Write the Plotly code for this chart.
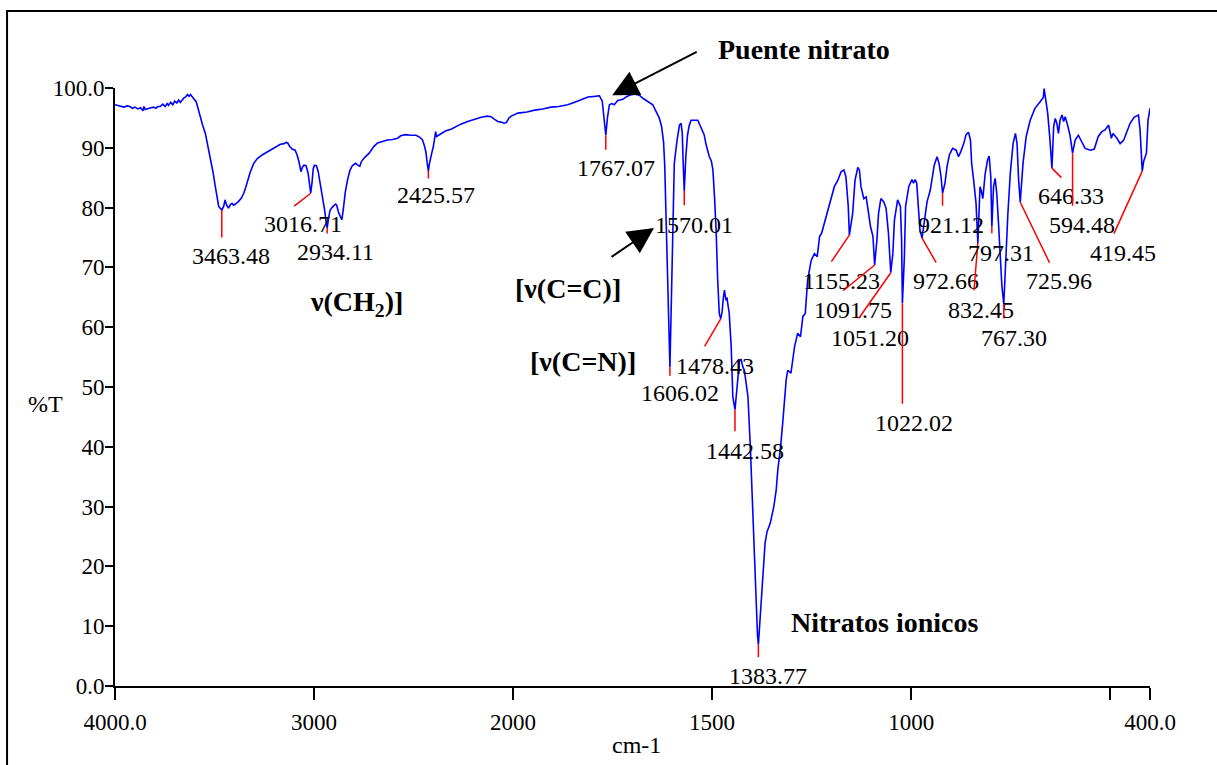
import plotly.graph_objects as go

# Infrared spectrum: wavenumber (cm-1) against transmittance (%T).
# Background points of the trace; the labelled band minima are merged in below.
wavenumber = [
    4000, 3985, 3970, 3955, 3940, 3925, 3912, 3900, 3885, 3872, 3860, 3855, 3848,
    3835, 3820, 3807, 3795, 3785, 3773, 3760, 3748, 3738, 3731, 3720, 3710, 3700,
    3689, 3680, 3672, 3664, 3655, 3645, 3636, 3628, 3620, 3614, 3603, 3592, 3582,
    3572, 3560, 3546, 3535, 3521, 3508, 3496, 3486, 3479,
    3454, 3447, 3439, 3430, 3420, 3412, 3404, 3395, 3380, 3365, 3353, 3343, 3333,
    3320, 3303, 3285, 3261, 3240, 3219, 3195, 3169, 3150, 3140, 3132, 3122, 3110,
    3095, 3085, 3076, 3066, 3058, 3050, 3040, 3030, 3024,
    3010, 3004, 2998, 2988, 2979, 2970, 2958, 2947, 2940,
    2928, 2920, 2910, 2900, 2892, 2886, 2878, 2868, 2860, 2852, 2843, 2832, 2820,
    2808, 2792, 2780, 2770, 2762, 2745, 2723, 2700, 2681, 2660, 2631, 2605, 2580,
    2565, 2540, 2513, 2488, 2470, 2455, 2446, 2438, 2432,
    2420, 2414, 2408, 2400, 2392, 2389, 2384, 2360, 2340, 2312, 2290, 2260, 2228,
    2200, 2160, 2130, 2110, 2095, 2083, 2076, 2060, 2045, 2034, 2020, 2009, 1988,
    1965, 1946, 1925, 1905, 1885, 1863, 1845, 1829, 1812, 1795, 1783, 1776, 1771,
    1763, 1758, 1752, 1746, 1737, 1724, 1716, 1708, 1695, 1683, 1672, 1662, 1655,
    1649, 1641, 1633, 1627, 1622, 1619, 1616, 1613, 1610,
    1603, 1600, 1598, 1595, 1588, 1582, 1578, 1575, 1573,
    1566, 1562, 1558, 1553, 1536, 1528, 1520, 1515, 1507, 1502, 1498, 1494, 1490,
    1486, 1482,
    1475, 1472, 1469, 1467, 1465, 1463, 1461, 1457, 1452, 1448,
    1440, 1436, 1431, 1427, 1423, 1419, 1415, 1410, 1404, 1398, 1393, 1389, 1386,
    1379, 1373, 1367, 1362, 1354, 1345, 1339, 1335, 1328, 1322, 1318, 1314, 1310,
    1302, 1293, 1285, 1278, 1272, 1266, 1260, 1251, 1243, 1236, 1230, 1225, 1218,
    1209, 1201, 1193, 1184, 1176, 1169, 1164, 1158,
    1147, 1141, 1134, 1130, 1126, 1119, 1113, 1109, 1102, 1096,
    1086, 1082, 1076, 1069, 1063, 1057,
    1046, 1042, 1034, 1027, 1024,
    1017, 1014, 1006, 998, 994, 990, 986, 982, 978,
    966, 960, 952, 942, 935, 930, 925,
    915, 910, 904, 896, 887, 881, 875, 868, 862, 856, 851, 848, 843, 837,
    827, 824, 820, 814, 808, 804, 800,
    793, 789, 785, 781, 777, 772,
    763, 757, 751, 744, 738, 734, 730,
    719, 711, 701, 689, 676, 668, 666, 662, 657, 652,
    642, 638, 634, 630, 626, 621, 617, 613, 607, 601,
    588, 580, 571, 563, 550, 540, 530, 521, 513, 504, 497, 493, 483, 475, 466,
    458, 450, 440, 429, 425,
    416, 409, 405, 400,
]
transmittance = [
    97.2, 97.1, 97.0, 96.8, 97.0, 96.9, 96.6, 96.8, 96.5, 96.7, 96.2, 96.9, 96.4,
    96.6, 96.7, 96.8, 96.6, 96.9, 96.9, 97.3, 96.9, 97.4, 97.1, 97.6, 97.2, 97.8,
    97.5, 98.0, 97.6, 97.9, 98.3, 98.5, 98.9, 98.6, 98.9, 98.6, 98.2, 97.7, 96.5,
    95.2, 93.8, 92.4, 90.6, 88.5, 86.0, 83.5, 81.5, 80.2,
    80.2, 81.3, 80.4, 79.9, 80.5, 80.7, 80.4, 80.6, 81.0, 81.6, 82.4, 83.4, 84.6,
    86.0, 87.4, 88.2, 88.8, 89.2, 89.6, 90.0, 90.6, 90.7, 90.9, 90.8, 90.2, 89.8,
    89.6, 88.8, 87.7, 86.0, 86.8, 87.1, 87.0, 85.8, 84.0,
    84.2, 86.5, 87.1, 87.0, 86.0, 84.2, 82.4, 79.6, 77.8,
    78.0, 79.5, 80.0, 80.3, 80.6, 80.4, 79.3, 78.5, 78.0, 80.0, 82.6, 84.6, 86.2,
    87.0, 87.4, 87.1, 86.9, 87.7, 88.4, 89.1, 90.2, 90.8, 91.0, 91.3, 91.4, 91.6,
    92.0, 92.2, 92.1, 92.1, 91.8, 91.3, 90.4, 89.3, 87.6,
    87.4, 88.6, 89.2, 90.3, 91.6, 92.7, 91.9, 92.4, 92.8, 93.1, 93.5, 94.0, 94.4,
    94.7, 95.1, 95.3, 95.2, 94.8, 94.5, 94.4, 94.3, 94.1, 94.2, 95.0, 95.3, 95.8,
    96.0, 96.3, 96.5, 96.8, 96.9, 97.2, 97.6, 98.1, 98.5, 98.6, 98.7, 97.8, 94.5,
    95.0, 97.2, 97.4, 97.2, 97.9, 98.1, 98.5, 98.8, 99.0, 98.8, 98.2, 97.8, 97.4,
    97.2, 96.1, 95.0, 93.6, 91.0, 87.0, 79.1, 70.0, 62.4,
    62.4, 72.0, 79.1, 87.4, 91.3, 93.8, 94.1, 92.5, 88.0,
    88.5, 92.0, 93.6, 94.6, 94.6, 93.5, 92.2, 90.5, 88.5, 87.8, 86.3, 81.8, 76.3,
    67.9, 62.3,
    62.5, 64.8, 66.2, 65.2, 64.5, 65.0, 64.3, 62.3, 56.7, 48.4,
    47.8, 51.2, 54.5, 54.6, 53.4, 52.8, 50.5, 48.4, 40.0, 30.0, 20.0, 12.0, 8.5,
    12.2, 17.7, 23.9, 25.8, 27.2, 30.0, 32.8, 36.1, 40.0, 44.5, 47.8, 51.2, 52.8,
    52.3, 56.7, 59.0, 58.4, 61.8, 62.3, 67.9, 71.2, 72.3, 71.8, 75.2, 75.7, 77.4,
    79.6, 81.8, 83.5, 84.6, 86.0, 86.3, 85.2, 80.2,
    79.0, 84.6, 86.7, 86.3, 83.5, 81.5, 81.8, 80.2, 76.8, 75.2,
    74.6, 79.0, 81.5, 81.0, 79.9, 75.7,
    72.3, 77.9, 81.3, 80.2, 74.6,
    71.8, 80.2, 83.5, 84.7, 84.1, 84.7, 84.1, 80.2, 76.3,
    78.5, 81.0, 82.9, 87.1, 88.5, 87.4, 85.2,
    84.1, 86.8, 88.8, 89.9, 89.6, 88.5, 89.4, 90.7, 92.2, 92.6, 91.3, 87.4, 84.6, 80.7,
    83.5, 82.9, 81.5, 85.7, 88.0, 88.6, 85.2,
    83.5, 84.9, 82.4, 77.9, 72.3, 66.8,
    70.7, 79.0, 85.7, 90.7, 92.4, 90.7, 84.6,
    87.4, 91.9, 94.6, 96.6, 97.7, 98.4, 99.9, 98.3, 95.8, 91.9,
    93.6, 94.9, 94.1, 92.4, 94.6, 95.5, 94.4, 95.2, 93.8, 92.1,
    91.3, 92.1, 91.0, 89.9, 89.6, 89.8, 91.9, 92.7, 93.0, 93.8, 91.6, 92.4, 91.6, 90.7, 91.3,
    92.7, 94.1, 95.1, 95.5, 93.0,
    87.7, 89.1, 94.6, 96.6,
]

# Labelled band minima
peak_wavenumber = [
    3463.48, 3016.71, 2934.11, 2425.57, 1767.07, 1570.01, 1606.02, 1478.43,
    1442.58, 1383.77, 1155.23, 1091.75, 1051.20, 1022.02, 972.66, 921.12,
    832.45, 797.31, 767.30, 725.96, 646.33, 594.48, 419.45,
]
peak_transmittance = [
    79.6, 82.4, 76.6, 86.1, 92.1, 82.8, 53.3, 61.4,
    46.2, 6.9, 75.4, 70.4, 69.1, 64.0, 74.9, 82.4,
    74.1, 76.8, 63.9, 80.9, 86.6, 89.1, 86.1,
]
peak_labels = [f"{w:.2f}" for w in peak_wavenumber]

# Leader-line tail offsets and label-centre offsets (pixels from the band minimum)
leader_offsets = [
    (0, 29), (-18, 14), (0, 7), (0, 9), (0, 16), (0, 16), (0, 10), (-17, 29),
    (0, 23), (0, 14), (-19, 28), (-33, 27), (-33, 47), (0, 102), (15, 26), (0, 14),
    (-4, 49), (0, 8), (0, 16), (30, 62), (11, 11), (0, 54), (-29, 64),
]
label_offsets = [
    (9, 46), (-8, 31), (8, 24), (8, 24), (10, 33), (10, 34), (10, 26), (-6, 47),
    (10, 41), (10, 31), (-8, 46), (-22, 45), (-21, 65), (12, 120), (24, 43), (8, 32),
    (3, 67), (9, 26), (10, 34), (39, 79), (19, 28), (9, 72), (-19, 82),
]

# Axis ticks
tick_wavenumbers = [4000, 3000, 2000, 1500, 1000, 500, 400]
tick_texts = ["4000.0", "3000", "2000", "1500", "1000", "", "400.0"]
y_ticks = list(range(0, 101, 10))
y_tick_texts = ["0.0"] + [str(v) for v in y_ticks[1:-1]] + ["100.0"]


def axis_pos(w):
    """Spectrometer scale: 2000 cm-1 and below is expanded two-fold."""
    return 4000 - w if w >= 2000 else 2000 + 2 * (2000 - w)


SERIF = "Liberation Serif, Times New Roman, serif"

points = sorted(zip(wavenumber + peak_wavenumber, transmittance + peak_transmittance),
                key=lambda p: -p[0])
xs = [axis_pos(w) for w, _ in points]
ys = [t for _, t in points]

fig = go.Figure()
fig.add_trace(go.Scatter(
    x=xs, y=ys, mode="lines",
    line=dict(color="#0000ff", width=1.6),
    hoverinfo="skip", showlegend=False,
))

annotations = []
for w, t, lab, (ldx, ldy), (tdx, tdy) in zip(
        peak_wavenumber, peak_transmittance, peak_labels, leader_offsets, label_offsets):
    annotations.append(dict(
        x=axis_pos(w), y=t, xref="x", yref="y", text="",
        showarrow=True, arrowhead=0, arrowwidth=1.5, arrowcolor="#ff0000",
        ax=ldx, ay=ldy, standoff=0, startstandoff=0,
    ))
    annotations.append(dict(
        x=axis_pos(w), y=t, xref="x", yref="y", text=lab, showarrow=False,
        xshift=tdx, yshift=-tdy, xanchor="center", yanchor="middle",
        font=dict(family=SERIF, size=24, color="black"),
    ))

bold = dict(family=SERIF, size=28, color="black")
band_notes = [
    ("<b>[ν(C=C)]</b>", 1862, 66.4),
    ("<b>ν(CH<sub>2</sub>)]</b>", 2789, 64.0),
    ("<b>[ν(C=N)]</b>", 1824, 54.2),
    ("<b>Nitratos ionicos</b>", 1065, 10.7),
]
for text, w, t in band_notes:
    annotations.append(dict(
        x=axis_pos(w), y=t, xref="x", yref="y", text=text, showarrow=False,
        xanchor="center", yanchor="middle", font=bold,
    ))

# Heading above the plot area, with its pointer to the nitrate-bridge band
annotations.append(dict(
    x=0.6657, y=1.0652, xref="paper", yref="paper", text="<b>Puente nitrato</b>",
    showarrow=False, xanchor="center", yanchor="middle", font=bold,
))
annotations.append(dict(
    x=axis_pos(1751), y=98.8, xref="x", yref="y", text="", showarrow=True,
    arrowhead=2, arrowsize=2.6, arrowwidth=2, arrowcolor="black",
    ax=86, ay=-44, standoff=0,
))
annotations.append(dict(
    x=axis_pos(1646), y=76.6, xref="x", yref="y", text="", showarrow=True,
    arrowhead=2, arrowsize=2.6, arrowwidth=2, arrowcolor="black",
    ax=-44, ay=30, standoff=0,
))

# Axis titles
annotations.append(dict(
    x=-0.0676, y=0.4716, xref="paper", yref="paper", text="%T", showarrow=False,
    xanchor="center", yanchor="middle", font=dict(family=SERIF, size=24, color="black"),
))
annotations.append(dict(
    x=0.5034, y=-0.099, xref="paper", yref="paper", text="cm-1", showarrow=False,
    xanchor="center", yanchor="middle", font=dict(family=SERIF, size=24, color="black"),
))

fig.update_layout(
    width=1217, height=765,
    margin=dict(l=115, r=67, t=88, b=79),
    paper_bgcolor="white", plot_bgcolor="white",
    showlegend=False,
    annotations=annotations,
    shapes=[dict(
        type="rect", xref="paper", yref="paper",
        x0=-0.1043, x1=1.08, y0=-0.2, y1=1.1288,
        line=dict(color="black", width=2), fillcolor="rgba(0,0,0,0)", layer="below",
    )],
    xaxis=dict(
        range=[0, axis_pos(400)], showgrid=False, zeroline=False,
        showline=True, linecolor="black", linewidth=2,
        ticks="outside", ticklen=12, tickwidth=1.5, tickcolor="black",
        tickvals=[axis_pos(w) for w in tick_wavenumbers], ticktext=tick_texts,
        tickfont=dict(family=SERIF, size=23, color="black"),
        ticklabelstandoff=2,
    ),
    yaxis=dict(
        range=[0, 100], showgrid=False, zeroline=False,
        showline=True, linecolor="black", linewidth=2,
        ticks="outside", ticklen=8, tickwidth=1.5, tickcolor="black",
        tickvals=y_ticks, ticktext=y_tick_texts,
        tickfont=dict(family=SERIF, size=23, color="black"),
        ticklabelstandoff=-4,
    ),
)

fig.write_html("out.html")
